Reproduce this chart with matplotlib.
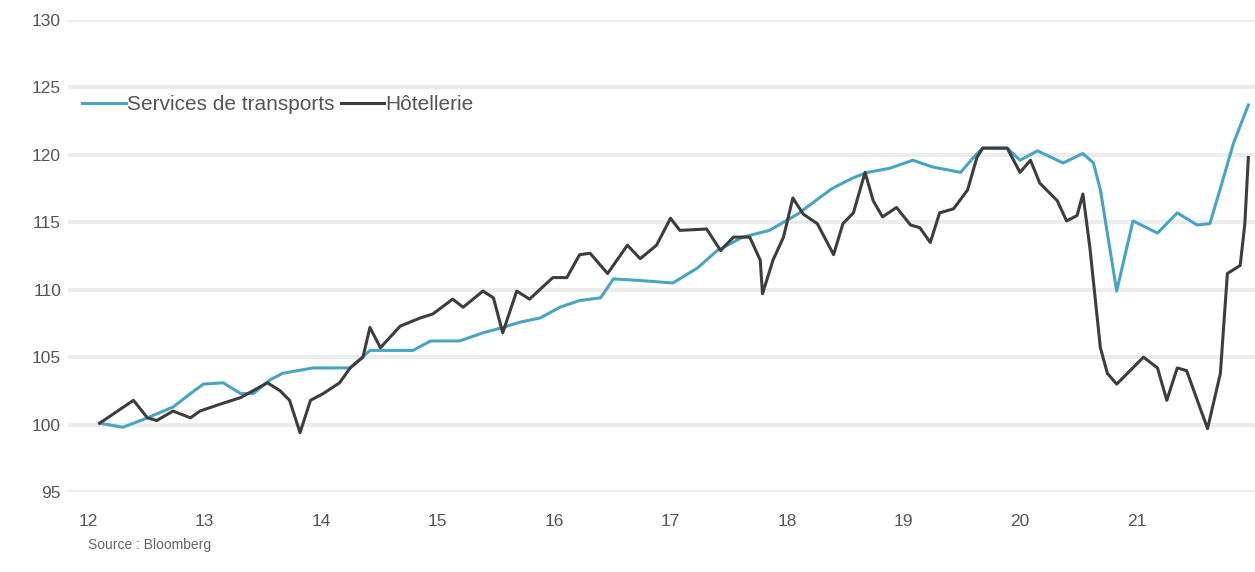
import matplotlib.pyplot as plt

# years as decimal (12 = 2012), index base 100
transport_x = [12.10, 12.30, 12.51, 12.73, 12.88, 12.99, 13.16, 13.31, 13.42, 13.56, 13.67, 13.93,
               14.16, 14.25, 14.42, 14.57, 14.79, 14.94, 15.19, 15.39, 15.56, 15.71, 15.88, 16.05,
               16.22, 16.40, 16.51, 16.71, 17.02, 17.23, 17.40, 17.62, 17.85, 18.09, 18.37, 18.43,
               18.57, 18.69, 18.88, 19.08, 19.25, 19.49, 19.60, 19.68, 19.89, 20.00, 20.15, 20.37,
               20.54, 20.63, 20.69, 20.83, 20.97, 21.18, 21.35, 21.52, 21.63, 21.74, 21.83, 21.96]
transport_y = [100.1, 99.8, 100.5, 101.3, 102.3, 103.0, 103.1, 102.3, 102.3, 103.3, 103.8, 104.2,
               104.2, 104.2, 105.5, 105.5, 105.5, 106.2, 106.2, 106.8, 107.2, 107.6, 107.9, 108.7,
               109.2, 109.4, 110.8, 110.7, 110.5, 111.6, 112.9, 113.9, 114.4, 115.6, 117.4, 117.7,
               118.3, 118.7, 119.0, 119.6, 119.1, 118.7, 119.8, 120.5, 120.5, 119.6, 120.3, 119.4,
               120.1, 119.4, 117.4, 109.9, 115.1, 114.2, 115.7, 114.8, 114.9, 118.1, 120.8, 123.7]

hotel_x = [12.10, 12.39, 12.51, 12.59, 12.73, 12.88, 12.96, 13.13, 13.31, 13.54, 13.65, 13.73,
           13.82, 13.91, 14.02, 14.16, 14.25, 14.36, 14.42, 14.51, 14.68, 14.85, 14.96, 15.13,
           15.22, 15.39, 15.48, 15.56, 15.68, 15.79, 15.99, 16.11, 16.22, 16.31, 16.46, 16.63,
           16.74, 16.88, 17.00, 17.08, 17.31, 17.43, 17.54, 17.68, 17.77, 17.79, 17.88, 17.97,
           18.05, 18.14, 18.26, 18.40, 18.48, 18.57, 18.67, 18.74, 18.82, 18.94, 19.06, 19.14,
           19.23, 19.31, 19.43, 19.55, 19.63, 19.68, 19.89, 20.00, 20.09, 20.17, 20.32, 20.40,
           20.49, 20.54, 20.60, 20.69, 20.75, 20.83, 21.06, 21.18, 21.26, 21.35, 21.43, 21.61,
           21.72, 21.78, 21.89, 21.93, 21.96]
hotel_y = [100.1, 101.8, 100.5, 100.3, 101.0, 100.5, 101.0, 101.5, 102.0, 103.1, 102.5, 101.8,
           99.4, 101.8, 102.3, 103.1, 104.2, 105.0, 107.2, 105.7, 107.3, 107.9, 108.2, 109.3,
           108.7, 109.9, 109.4, 106.8, 109.9, 109.3, 110.9, 110.9, 112.6, 112.7, 111.2, 113.3,
           112.3, 113.3, 115.3, 114.4, 114.5, 112.9, 113.9, 113.9, 112.2, 109.7, 112.2, 113.9,
           116.8, 115.6, 114.9, 112.6, 114.9, 115.7, 118.7, 116.6, 115.4, 116.1, 114.8, 114.6,
           113.5, 115.7, 116.0, 117.4, 119.8, 120.5, 120.5, 118.7, 119.6, 117.9, 116.6, 115.1,
           115.5, 117.1, 113.1, 105.7, 103.8, 103.0, 105.0, 104.2, 101.8, 104.2, 104.0, 99.7,
           103.8, 111.2, 111.8, 114.9, 119.8]

years = list(range(12, 22))

plt.rcParams['font.family'] = ['Liberation Sans', 'DejaVu Sans']

W, H = 1255, 572
fig = plt.figure(figsize=(W/100, H/100), dpi=100)
ax = fig.add_axes([68/W, 1-492/H, (W-68)/W, (492-20)/H])

ax.plot(transport_x, transport_y, color='#47a5c4', lw=2.2, label='Services de transports')
ax.plot(hotel_x, hotel_y, color='#3d3d3f', lw=2.2, label='Hôtellerie')

ax.set_ylim(95, 130)
ax.set_yticks(range(95, 131, 5))
ax.set_xlim(12+(68-88)/116.5, 12+(W-88)/116.5)
ax.set_xticks(years)
ax.set_xticklabels([str(y) for y in years])

ax.yaxis.grid(True, color='#ececec', lw=3)
ax.set_axisbelow(True)
for s in ax.spines.values():
    s.set_visible(False)
ax.tick_params(axis='both', length=0, labelsize=12.5, colors='#555555')
ax.tick_params(axis='x', pad=16)
ax.tick_params(axis='y', pad=5)

leg = ax.legend(loc='center left', bbox_to_anchor=(82/W, 1-105/H), bbox_transform=fig.transFigure,
                ncol=2, frameon=False, fontsize=15, handlelength=2.1, handletextpad=0.05,
                columnspacing=0.3, borderaxespad=0, borderpad=0)
for t in leg.get_texts():
    t.set_color('#555555')

fig.text(88/W, 1-545/H, 'Source : Bloomberg', fontsize=10, color='#666666', va='center')

fig.savefig('out.png', dpi=100)
